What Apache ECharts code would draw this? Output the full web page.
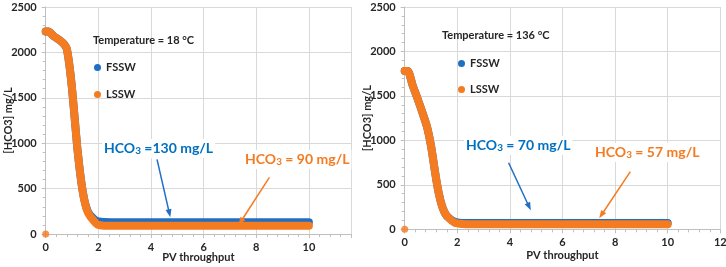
<!DOCTYPE html>
<html>
<head>
<meta charset="utf-8">
<script src="https://cdn.jsdelivr.net/npm/echarts@6/dist/echarts.min.js"></script>
<style>
html, body { margin: 0; padding: 0; background: #fff; }
#chart { width: 726px; height: 267px; }
</style>
</head>
<body>
<div id="chart"></div>
<script>
// 18 C panel
var pv18 =      [0, 0.1, 0.3, 0.55, 0.7, 0.8, 0.9, 1.0, 1.1, 1.2, 1.3, 1.4, 1.5, 1.6, 1.7, 1.8, 1.9, 2.0, 2.2, 2.5, 10];
var fssw18 =    [2230, 2230, 2180, 2130, 2090, 2040, 1860, 1600, 1280, 950, 690, 480, 335, 250, 205, 175, 150, 138, 131, 130, 130];
var lssw18 =    [2230, 2230, 2180, 2130, 2090, 2040, 1860, 1600, 1280, 950, 690, 480, 330, 240, 190, 155, 120, 100, 92, 90, 90];
// 136 C panel
var pv136 =     [0, 0.12, 0.3, 0.5, 0.7, 0.85, 1.0, 1.1, 1.2, 1.3, 1.4, 1.5, 1.6, 1.7, 1.8, 1.9, 2.0, 2.2, 2.5, 10];
var fssw136 =   [1780, 1780, 1620, 1460, 1290, 1150, 940, 750, 560, 400, 280, 200, 150, 125, 100, 85, 77, 72, 70, 70];
var lssw136 =   [1780, 1780, 1620, 1460, 1290, 1150, 940, 750, 560, 400, 280, 200, 150, 120, 95, 75, 66, 59, 57, 57];
var yTicks = [0, 500, 1000, 1500, 2000, 2500];

var BLUE = '#1f6fc5', ORANGE = '#f47b20', TXTBLUE = '#0070c0';
var FONT = 'Lato';

function pairs(xs, ys) {
    return xs.map(function (x, i) { return [x, ys[i]]; });
}

var chart = echarts.init(document.getElementById('chart'));

function xAx(idx, max, gap) {
    return {
        type: 'value', gridIndex: idx, min: 0, max: max, interval: 2,
        name: 'PV throughput', nameLocation: 'middle', nameGap: gap, nameMoveOverlap: false,
        nameTextStyle: { fontFamily: FONT, fontWeight: 'bold', fontSize: 11, color: '#262626' },
        axisLine: { show: true, lineStyle: { color: '#bfbfbf' } },
        axisTick: { show: true, length: 4, lineStyle: { color: '#bfbfbf' } },
        minorTick: { show: true, splitNumber: 5, length: 3, lineStyle: { color: '#bfbfbf' } },
        axisLabel: { fontFamily: FONT, fontWeight: 'bold', fontSize: 11, color: '#262626', margin: 8, showMaxLabel: max === 12 },
        splitLine: { show: true, lineStyle: { color: '#d9d9d9' } }
    };
}
function yAx(idx) {
    return {
        type: 'value', gridIndex: idx, min: yTicks[0], max: yTicks[yTicks.length - 1], interval: 500,
        name: '[HCO3] mg/L', nameLocation: 'middle', nameGap: 32, nameRotate: 90, nameMoveOverlap: false,
        nameTextStyle: { fontFamily: FONT, fontWeight: 'bold', fontSize: 11, color: '#262626' },
        axisLine: { show: true, lineStyle: { color: '#bfbfbf' } },
        axisTick: { show: true, length: 4, lineStyle: { color: '#bfbfbf' } },
        minorTick: { show: true, splitNumber: 5, length: 3, lineStyle: { color: '#bfbfbf' } },
        axisLabel: { fontFamily: FONT, fontWeight: 'bold', fontSize: 11, color: '#262626', margin: 9,
                     formatter: function (v) { return String(v); } },
        splitLine: { show: true, lineStyle: { color: '#d9d9d9' } }
    };
}
function curve(name, color, idx, data, z) {
    return {
        name: name, type: 'line', xAxisIndex: idx, yAxisIndex: idx, data: data,
        showSymbol: false, smooth: 0.2, z: z, color: color,
        lineStyle: { color: color, width: 8, cap: 'round', join: 'round' }
    };
}
function arrow(idx, color, from, to) {
    return {
        type: 'line', xAxisIndex: idx, yAxisIndex: idx, data: [], z: 5,
        markLine: {
            silent: true, symbol: ['none', 'triangle'], symbolSize: [6, 8],
            label: { show: false },
            lineStyle: { color: color, width: 1.5, type: 'solid' },
            data: [[{ coord: from }, { coord: to }]]
        }
    };
}
function hco(left, top, color, rest) {
    return {
        type: 'text', left: left, top: top, z: 20,
        style: {
            text: '{a|HCO}{s|3}{a|' + rest + '}',
            backgroundColor: '#fff', padding: [2, 2],
            rich: {
                a: { fontFamily: FONT, fontWeight: 'bold', fontSize: 14, fill: color },
                s: { fontFamily: FONT, fontWeight: 'bold', fontSize: 10, fill: color, padding: [5, 0, 0, 0] }
            }
        }
    };
}
function plain(left, top, text) {
    return {
        type: 'text', left: left, top: top, z: 20,
        style: { text: text, fontFamily: FONT, fontWeight: 'bold', fontSize: 11, fill: '#262626' }
    };
}

var option = {
    animation: false,
    grid: [
        { left: 45.7, top: 7, width: 305.3, height: 227, outerBoundsMode: 'none' },
        { left: 404.7, top: 7, width: 315.6, height: 222.3, outerBoundsMode: 'none' }
    ],
    xAxis: [xAx(0, 11.6, 18), xAx(1, 12, 21)],
    yAxis: [yAx(0), yAx(1)],
    legend: [
        { data: ['FSSW', 'LSSW'], orient: 'vertical', left: 89, top: 57, icon: 'circle', itemWidth: 7, itemHeight: 7, itemGap: 16,
          textStyle: { fontFamily: FONT, fontWeight: 'bold', fontSize: 11, color: '#262626' }, selectedMode: false },
        { data: ['FSSW', 'LSSW'], orient: 'vertical', left: 453, top: 53, icon: 'circle', itemWidth: 7, itemHeight: 7, itemGap: 15,
          textStyle: { fontFamily: FONT, fontWeight: 'bold', fontSize: 11, color: '#262626' }, selectedMode: false }
    ],
    series: [
        curve('FSSW', BLUE, 0, pairs(pv18, fssw18), 2),
        curve('LSSW', ORANGE, 0, pairs(pv18, lssw18), 3),
        curve('FSSW', BLUE, 1, pairs(pv136, fssw136), 2),
        curve('LSSW', ORANGE, 1, pairs(pv136, lssw136), 3),
        { name: 'LSSW', type: 'scatter', xAxisIndex: 0, yAxisIndex: 0, data: [[0, 0]], symbolSize: 7, color: ORANGE, z: 4 },
        { name: 'LSSW', type: 'scatter', xAxisIndex: 1, yAxisIndex: 1, data: [[0, 0]], symbolSize: 7, color: ORANGE, z: 4 },
        arrow(0, BLUE, [4.23, 822], [4.70, 228]),
        arrow(0, ORANGE, [8.50, 624], [7.41, 135]),
        arrow(1, BLUE, [3.95, 749], [4.73, 254]),
        arrow(1, ORANGE, [8.58, 648], [7.48, 161])
    ],
    graphic: [
        plain(93, 35, 'Temperature = 18 °C'),
        plain(442, 30, 'Temperature = 136 °C'),
        hco(102, 139, TXTBLUE, ' =130 mg/L'),
        hco(243, 150, ORANGE, ' = 90 mg/L'),
        hco(464, 136, TXTBLUE, ' = 70 mg/L'),
        hco(593, 143, ORANGE, ' = 57 mg/L')
    ]
};
chart.setOption(option);
</script>
</body>
</html>
